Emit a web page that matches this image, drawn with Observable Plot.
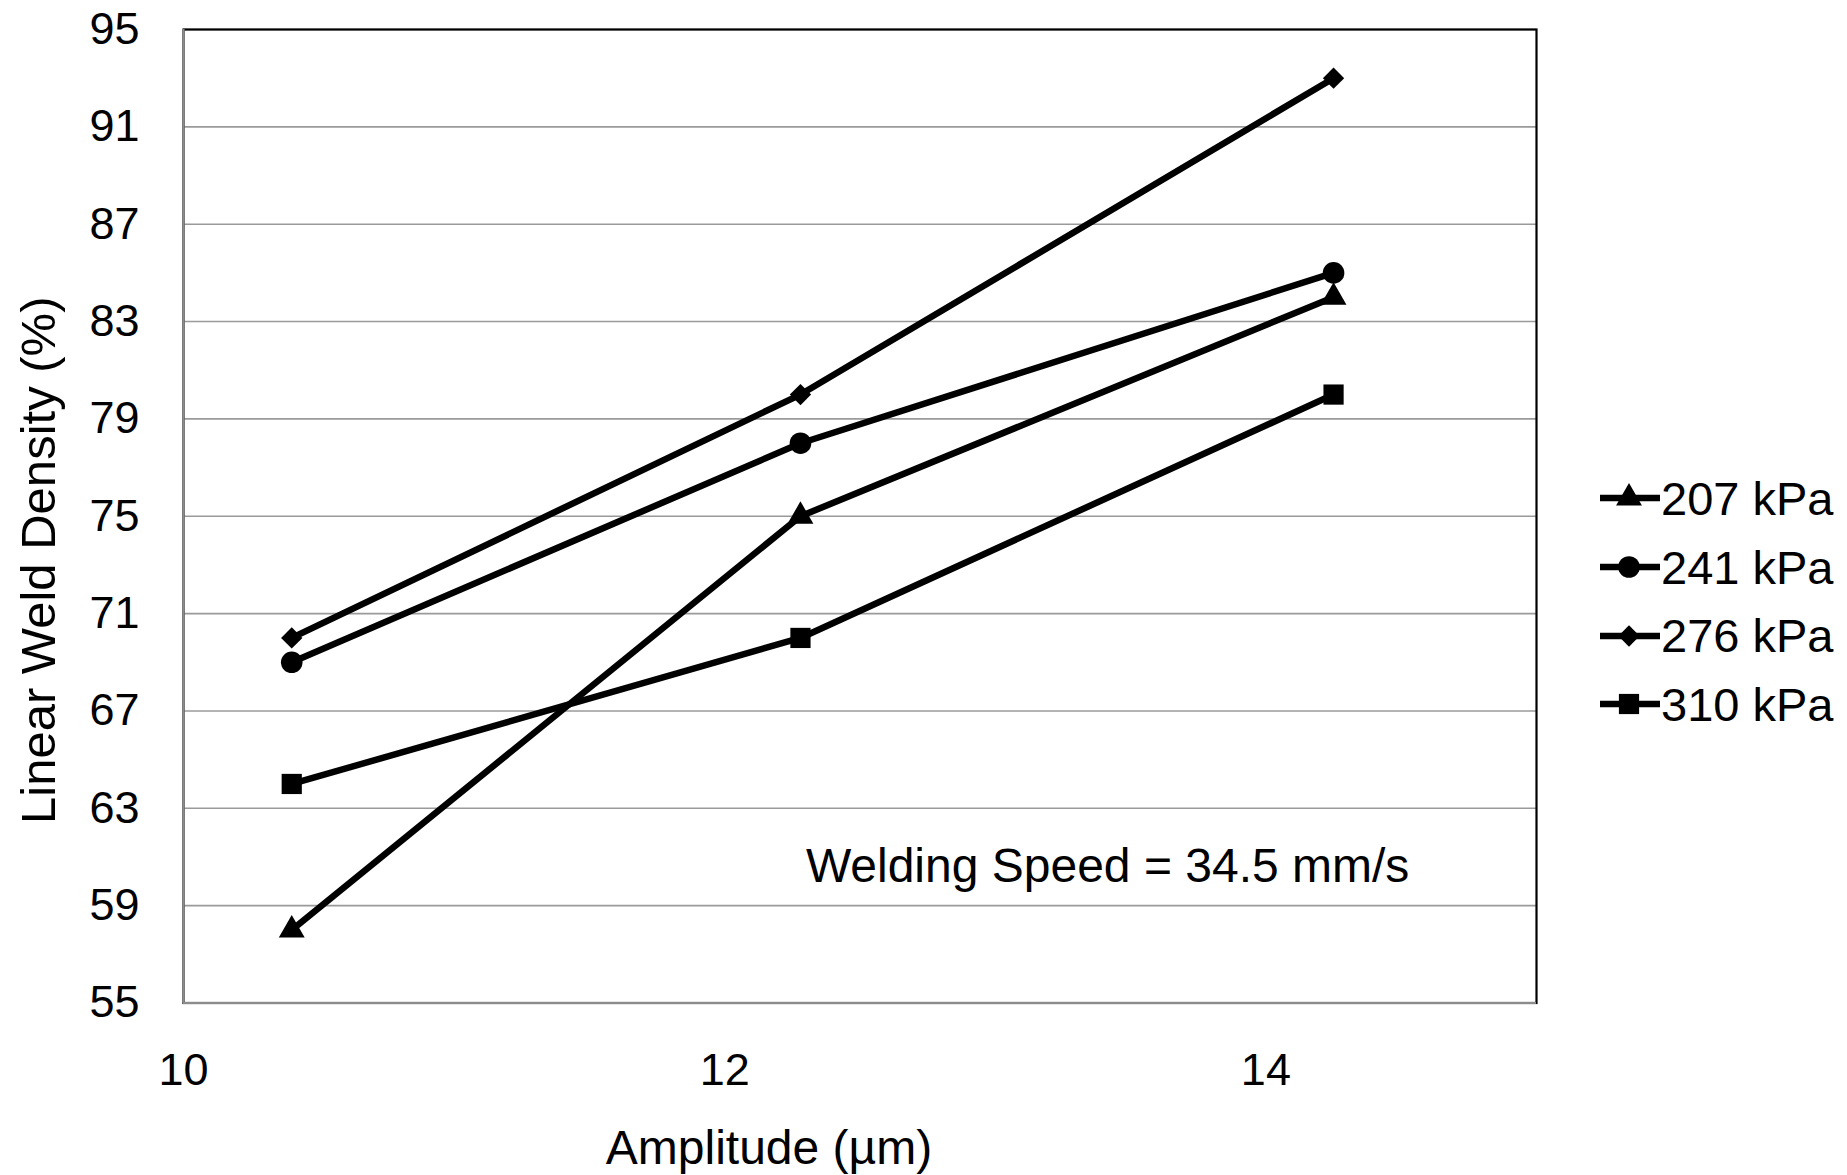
<!DOCTYPE html>
<html><head><meta charset="utf-8">
<script src="https://cdn.jsdelivr.net/npm/d3@7"></script>
<script src="https://cdn.jsdelivr.net/npm/@observablehq/plot@0.6"></script>
<style>
html,body{margin:0;padding:0;background:#fff;}
#wrap{position:relative;width:1847px;height:1175px;font-family:"Liberation Sans",Arial,sans-serif;}
#legend{position:absolute;left:1600px;top:464px;}
.row{display:flex;align-items:center;height:68.7px;font-size:47px;color:#000;line-height:1;}
.row svg{display:block;}
</style></head><body><div id="wrap"></div>
<script>
const amplitude = [10.4, 12.28, 14.25];
const seriesNames = ["207 kPa", "241 kPa", "276 kPa", "310 kPa"];
const density207 = [58, 75, 84];
const density241 = [69, 78, 85];
const density276 = [70, 80, 93];
const density310 = [64, 70, 80];
const seriesSymbols = ["triangle", "circle", "diamond2", "square"];
const xTicks = [10, 12, 14];
const yTicks = [55, 59, 63, 67, 71, 75, 79, 83, 87, 91, 95];
const annotation = "Welding Speed = 34.5 mm/s";
const xTitle = "Amplitude (µm)";
const yTitle = "Linear Weld Density (%)";

const values = [density207, density241, density276, density310];
const rBySymbol = {triangle: 9.6, circle: 10.8, diamond2: 9.6, square: 11.4};
const data = seriesNames.flatMap((s, i) => amplitude.map((a, j) => ({series: s, amplitude: a, density: values[i][j]})));

const FONT = "Liberation Sans, Arial, sans-serif";
const chart = Plot.plot({
  width: 1847, height: 1175,
  marginLeft: 183, marginRight: 311, marginTop: 29, marginBottom: 172.5,
  style: {fontFamily: FONT, color: "#000", background: "#fff", overflow: "visible"},
  x: {domain: [10, 15]},
  y: {domain: [55, 95]},
  marks: [
    Plot.gridY(yTicks, {stroke: "#9a9a9a", strokeOpacity: 1, strokeWidth: 1.6}),
    Plot.frame({stroke: "#000", strokeWidth: 2.2}),
    Plot.ruleX([10], {stroke: "#8c8c8c", strokeWidth: 2.2}),
    Plot.ruleY([55], {stroke: "#8c8c8c", strokeWidth: 2.2}),
    Plot.axisX(xTicks, {tickSize: 0, tickPadding: 50, fontSize: 45, label: null, tickFormat: d => String(d)}),
    Plot.axisY(yTicks, {tickSize: 0, tickPadding: 44, fontSize: 45, label: null, tickFormat: d => String(d)}),
    Plot.line(data, {x: "amplitude", y: "density", z: "series", stroke: "#000", strokeWidth: 6.5}),
    ...seriesNames.map((s, i) => Plot.dot(data.filter(d => d.series === s), {
      x: "amplitude", y: "density", symbol: seriesSymbols[i], r: rBySymbol[seriesSymbols[i]], fill: "#000", stroke: "none"
    })),
    Plot.text([annotation], {x: 12.3, y: 60.6, textAnchor: "start", fontSize: 48, fill: "#000"}),
    Plot.text([xTitle], {frameAnchor: "bottom", textAnchor: "middle", dx: -91, dy: 146, lineAnchor: "middle", fontSize: 48, fill: "#000"}),
    Plot.text([yTitle], {frameAnchor: "left", textAnchor: "middle", lineAnchor: "middle", rotate: -90, dx: -144, dy: 44, fontSize: 49, fill: "#000"})
  ]
});
const wrap = document.getElementById("wrap");
wrap.appendChild(chart);

// Legend
const legend = document.createElement("div");
legend.id = "legend";
const symMap = {triangle: d3.symbolTriangle, circle: d3.symbolCircle, diamond2: d3.symbolDiamond2, square: d3.symbolSquare};
seriesNames.forEach((s, i) => {
  const row = document.createElement("div");
  row.className = "row";
  const svg = d3.create("svg").attr("width", 61).attr("height", 30);
  svg.append("line").attr("x1", 0).attr("x2", 60).attr("y1", 15).attr("y2", 15).attr("stroke", "#000").attr("stroke-width", 6.5);
  const r = rBySymbol[seriesSymbols[i]];
  svg.append("path").attr("transform", "translate(29,15)").attr("d", d3.symbol(symMap[seriesSymbols[i]], Math.PI * r * r)()).attr("fill", "#000");
  row.appendChild(svg.node());
  const span = document.createElement("span");
  span.textContent = s;
  row.appendChild(span);
  legend.appendChild(row);
});
wrap.appendChild(legend);
</script></body></html>
